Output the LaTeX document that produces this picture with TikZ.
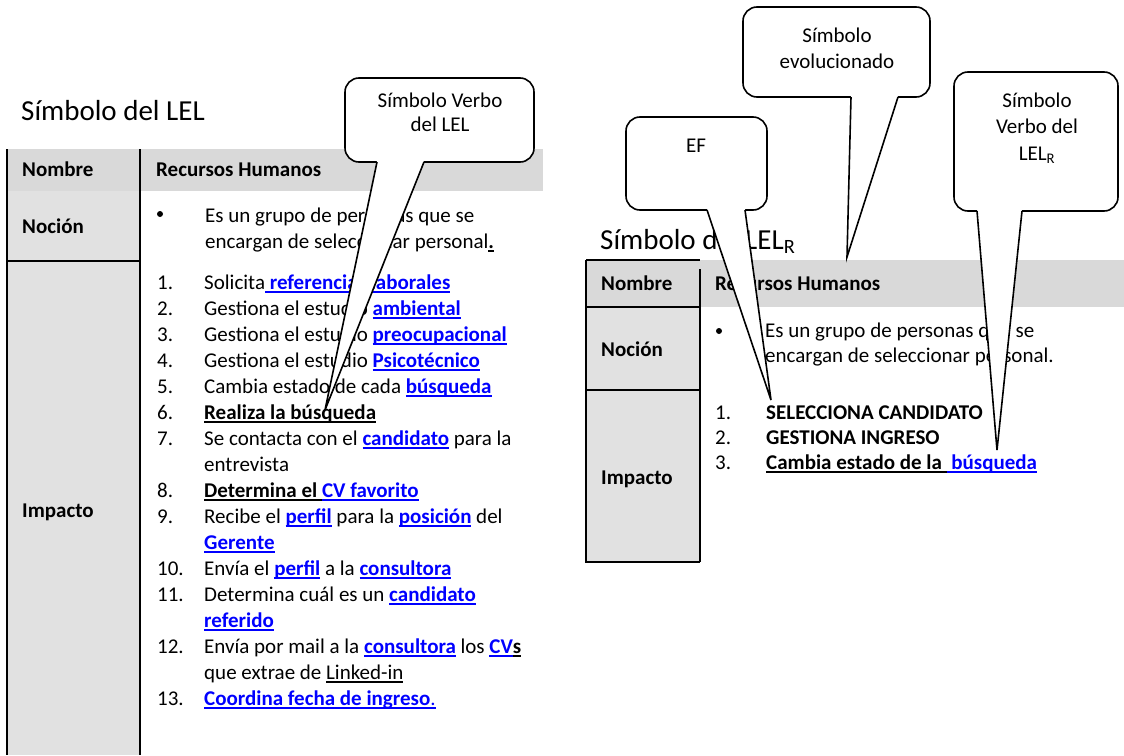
\documentclass[tikz,border=0pt]{standalone}
\usepackage{fontspec}
\setmainfont{Carlito}
\usetikzlibrary{calc,fit}

\definecolor{hdrgrey}{HTML}{D9D9D9}
\definecolor{colgrey}{HTML}{E1E1E1}
\definecolor{linkblue}{HTML}{0000FF}

% underlined text in a given colour
\newcommand\undl[2]{\setbox0\hbox{#2}\rlap{\color{#1}\rule[-4pt]{\wd0}{1.6pt}}\box0\relax}
% bold blue hyperlink-style word
\newcommand\lnk[1]{\undl{linkblue}{\textcolor{linkblue}{\bfseries #1}}}
% bold black underlined words
\newcommand\blk[1]{\undl{black}{\bfseries #1}}

\tikzset{
  txt/.style={anchor=base west, inner sep=0pt, font=\fontsize{21}{26}\selectfont},
  hd/.style={txt, font=\fontsize{21}{26}\selectfont\bfseries},
  ttl/.style={anchor=base west, inner sep=0pt},
  ctxt/.style={anchor=base, inner sep=0pt, font=\fontsize{21}{24}\selectfont},
  callbox/.style={draw, line width=1.6pt, fill=white, rounded corners=14pt, inner sep=0pt},
  pointer/.style={line width=1.6pt, line join=miter},
  tabrule/.style={line width=1.3pt},
  bulletdot/.style={circle, fill=black, inner sep=0pt, minimum size=6pt},
}

\begin{document}
\begin{tikzpicture}[x=1pt,y=1pt]
\useasboundingbox (0,0) rectangle (1124,-755);

% ---------------- left table: Símbolo del LEL ----------------
\node[ttl, font=\fontsize{29}{33}\selectfont] (tL) at (21,-120) {Símbolo del LEL};

\fill[colgrey] (7,-149) rectangle (140,-755);
\fill[hdrgrey] (7,-149) rectangle (543,-191);
\draw[tabrule] (7,-149) -- (7,-755);
\draw[tabrule] (140,-149) -- (140,-755);
\draw[tabrule] (7,-261) -- (140,-261);

\node[hd] (nomL) at (22,-176) {Nombre};
\node[hd] (rhL) at (156,-176) {Recursos Humanos};
\node[hd] (nocL) at (22,-233) {Noción};
\node[hd] (impL) at (22,-517) {Impacto};

\node[bulletdot] (bulL) at (160,-214) {};
\node[txt] (noc1L) at (205,-222) {Es un grupo de personas que se};
\node[txt] (noc2L) at (205,-248) {encargan de seleccionar personal\blk{.}};

\node[txt] (n1) at (157,-289) {1.};
\node[txt] (i1) at (204,-289) {Solicita\lnk{ referencias laborales}};
\node[txt] (n2) at (157,-315) {2.};
\node[txt] (i2) at (204,-315) {Gestiona el estudio \lnk{ambiental}};
\node[txt] (n3) at (157,-341) {3.};
\node[txt] (i3) at (204,-341) {Gestiona el estudio \lnk{preocupacional}};
\node[txt] (n4) at (157,-367) {4.};
\node[txt] (i4) at (204,-367) {Gestiona el estudio \lnk{Psicotécnico}};
\node[txt] (n5) at (157,-393) {5.};
\node[txt] (i5) at (204,-393) {Cambia estado de cada \lnk{búsqueda}};
\node[txt] (n6) at (157,-419) {6.};
\node[txt] (i6) at (204,-419) {\blk{Realiza la búsqueda}};
\node[txt] (n7) at (157,-445) {7.};
\node[txt] (i7) at (204,-445) {Se contacta con el \lnk{candidato} para la};
\node[txt] (i7b) at (204,-471) {entrevista};
\node[txt] (n8) at (157,-497) {8.};
\node[txt] (i8) at (204,-497) {\blk{Determina el }\lnk{CV favorito}};
\node[txt] (n9) at (157,-523) {9.};
\node[txt] (i9) at (204,-523) {Recibe el \lnk{perfil} para la \lnk{posición} del};
\node[txt] (i9b) at (204,-549) {\lnk{Gerente}};
\node[txt] (n10) at (157,-575) {10.};
\node[txt] (i10) at (204,-575) {Envía el \lnk{perfil} a la \lnk{consultora}};
\node[txt] (n11) at (157,-601) {11.};
\node[txt] (i11) at (204,-601) {Determina cuál es un \lnk{candidato}};
\node[txt] (i11b) at (204,-627) {\lnk{referido}};
\node[txt] (n12) at (157,-653) {12.};
\node[txt] (i12) at (204,-653) {Envía por mail a la \lnk{consultora} los \lnk{CV}\blk{s}};
\node[txt] (i12b) at (204,-679) {que extrae de \undl{black}{Linked-in}};
\node[txt] (n13) at (157,-705) {13.};
\node[txt] (i13) at (204,-705) {\lnk{Coordina fecha de ingreso}\undl{linkblue}{\textcolor{linkblue}{.}}};

% ---------------- right table: Símbolo del LEL_R ----------------
\node[ttl, font=\fontsize{29}{33}\selectfont] (tR) at (600,-249) {Símbolo del LEL\textsubscript{R}};

\fill[hdrgrey] (586,-260) rectangle (1124,-307);
\fill[colgrey] (586,-307) rectangle (700,-562);
\draw[tabrule] (586,-260) -- (700,-260);
\draw[tabrule] (586,-260) -- (586,-562) -- (700,-562);
\draw[tabrule] (700,-269) -- (700,-562);
\draw[tabrule] (586,-307) -- (700,-307);
\draw[tabrule] (586,-390) -- (700,-390);

\node[hd] (nomR) at (601,-290) {Nombre};
\node[hd] (rhR) at (715,-290) {Recursos Humanos};
\node[hd] (nocR) at (601,-356) {Noción};
\node[hd] (impR) at (601,-484) {Impacto};

\node[bulletdot] (bulR) at (719,-331) {};
\node[txt] (noc1R) at (765,-337) {Es un grupo de personas que se};
\node[txt] (noc2R) at (765,-362) {encargan de seleccionar personal.};

\node[txt] (m1) at (715,-419) {1.};
\node[hd] (j1) at (766,-419) {SELECCIONA CANDIDATO};
\node[txt] (m2) at (715,-444) {2.};
\node[hd] (j2) at (766,-444) {GESTIONA INGRESO};
\node[txt] (m3) at (715,-469) {3.};
\node[txt] (j3) at (766,-469) {\blk{Cambia estado de la }\lnk{ búsqueda}};

% ---------------- callouts ----------------
% Símbolo Verbo del LEL
\node[callbox, fit={(345,-78) (534,-162)}] (cVL) {};
\coordinate (cVLa) at (377,-162);
\coordinate (cVLb) at (424,-162);
\coordinate (cVLtip) at (325,-410);
\fill[white] ($(cVLa)+(0,1.2)$) -- (cVLtip) -- ($(cVLb)+(0,1.2)$) -- cycle;
\draw[pointer] (cVLa) -- (cVLtip) -- (cVLb);
\node[ctxt] (cVLt1) at (440,-107) {Símbolo Verbo};
\node[ctxt] (cVLt2) at (440,-131) {del LEL};

% Símbolo evolucionado
\node[callbox, fit={(743,-7) (930,-97)}] (cEvo) {};
\coordinate (cEvoa) at (851,-97);
\coordinate (cEvob) at (898,-97);
\coordinate (cEvotip) at (847,-257);
\fill[white] ($(cEvoa)+(0,1.2)$) -- (cEvotip) -- ($(cEvob)+(0,1.2)$) -- cycle;
\draw[pointer] (cEvoa) -- (cEvotip) -- (cEvob);
\node[ctxt] (cEvot1) at (837,-42) {Símbolo};
\node[ctxt] (cEvot2) at (837,-68) {evolucionado};

% EF
\node[callbox, fit={(626,-117) (767,-210)}] (cEF) {};
\coordinate (cEFa) at (707,-210);
\coordinate (cEFb) at (745,-210);
\coordinate (cEFtip) at (771,-400);
\fill[white] ($(cEFa)+(0,1.2)$) -- (cEFtip) -- ($(cEFb)+(0,1.2)$) -- cycle;
\draw[pointer] (cEFa) -- (cEFtip) -- (cEFb);
\node[ctxt] (cEFt) at (696,-152) {EF};

% Símbolo Verbo del LEL_R
\node[callbox, fit={(954,-72) (1118,-211)}] (cVR) {};
\coordinate (cVRa) at (977,-211);
\coordinate (cVRb) at (1022,-211);
\coordinate (cVRtip) at (997,-450);
\fill[white] ($(cVRa)+(0,1.2)$) -- (cVRtip) -- ($(cVRb)+(0,1.2)$) -- cycle;
\draw[pointer] (cVRa) -- (cVRtip) -- (cVRb);
\node[ctxt] (cVRt1) at (1037,-107) {Símbolo};
\node[ctxt] (cVRt2) at (1037,-133) {Verbo del};
\node[ctxt] (cVRt3) at (1037,-160) {LEL\textsubscript{R}};
\end{tikzpicture}
\end{document}
